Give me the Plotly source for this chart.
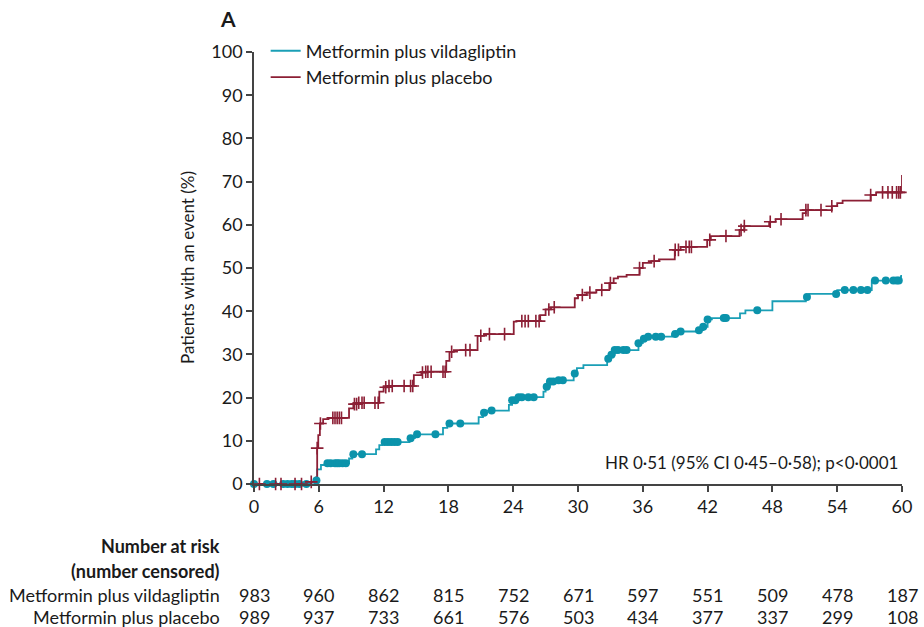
import plotly.graph_objects as go

# ---------------- data ----------------
# Kaplan-Meier step curves (time in months, cumulative % with event)
vilda_t = [0, 5.3, 5.7, 5.85, 6.2, 6.6, 8.8, 9.1, 11.3, 11.6, 11.9, 14.4, 14.9, 17.5, 17.9,
           20.8, 21.2, 21.5, 23.6, 23.9, 24.3, 26.8, 27.0, 27.4, 27.8, 29.6, 29.9, 30.5,
           32.7, 33.0, 33.4, 35.6, 36.0, 36.3, 38.7, 39.1, 41.1, 41.6, 42.0, 42.4, 45.0,
           45.5, 48.0, 51.1, 51.4, 54.0, 57.2, 59.9, 60]
vilda_v = [0, 0.3, 0.8, 3.4, 4.4, 4.8, 5.9, 6.9, 8.0, 9.0, 9.7, 10.6, 11.5, 13.0, 14.0,
           15.5, 16.5, 17.0, 18.3, 19.4, 20.1, 21.4, 22.5, 23.7, 24.0, 25.6, 26.8, 27.5,
           29.0, 29.9, 31.0, 32.6, 33.6, 34.1, 34.7, 35.3, 35.6, 36.4, 38.1, 38.4, 39.5,
           40.2, 42.3, 43.3, 44.0, 44.9, 47.1, 48.1, 48.4]

plac_t = [0, 5.3, 5.75, 5.85, 5.95, 6.1, 6.4, 6.9, 8.8, 9.2, 9.6, 11.6, 12.0, 12.4, 14.8,
          15.5, 15.9, 17.8, 18.1, 18.5, 20.7, 21.3, 24.05, 24.3, 26.5, 27.0, 27.5, 29.7,
          30.0, 30.8, 31.7, 32.9, 33.3, 33.7, 34.5, 35.7, 36.0, 36.8, 37.5, 38.96, 39.5,
          41.96, 42.3, 44.95, 45.4, 47.7, 48.3, 50.8, 51.1, 53.5, 54.0, 54.5, 57.1, 57.6,
          60]
plac_v = [0, 0.5, 1.5, 8.3, 11.3, 14.0, 15.0, 15.3, 17.5, 18.5, 18.8, 21.4, 22.4, 22.7, 25.2,
          25.8, 26.0, 28.5, 30.6, 31.0, 34.3, 34.7, 37.6, 37.7, 39.1, 40.4, 40.9, 43.0,
          43.75, 44.3, 44.9, 46.5, 47.6, 48.0, 48.4, 50.0, 51.2, 51.6, 52.0, 54.2, 54.9,
          56.5, 57.4, 58.8, 59.7, 60.7, 61.3, 62.7, 63.4, 64.3, 65.0, 65.6, 66.9, 67.5,
          71.5]

# censoring times (months)
vilda_cens = [0, 1.2, 1.8, 2.7, 3.1, 3.5, 3.8, 4.2, 4.85, 5.78, 6.8, 7.1, 7.5, 7.7, 7.9, 8.2,
              8.5, 9.2, 10.0, 12.1, 12.4, 12.7, 13.0, 13.3, 14.5, 15.1, 16.8, 18.1, 19.1,
              21.3, 22.0, 23.9, 24.2, 24.5, 24.8, 25.4, 25.9, 27.1, 27.4, 27.7, 28.2, 28.6,
              29.7, 32.8, 33.1, 33.4, 33.7, 34.2, 34.5, 35.6, 36.1, 36.5, 37.2, 37.7, 39.0,
              39.5, 41.2, 41.6, 42.0, 43.5, 43.7, 46.6, 51.2, 53.9, 54.7, 55.5, 56.2, 56.8,
              57.5, 58.5, 59.2, 59.5, 59.7]
plac_cens = [0.5, 2.0, 2.5, 3.8, 4.4, 5.3, 5.85, 6.15, 7.3, 7.5, 7.7, 7.9, 8.1, 9.3, 9.5,
             9.7, 10.0, 10.2, 11.2, 11.5, 12.2, 12.5, 12.8, 13.9, 14.5, 14.7, 15.6, 15.9,
             16.1, 16.4, 17.5, 17.7, 18.3, 19.6, 20.0, 21.0, 21.8, 23.2, 24.8, 25.1, 25.4,
             26.1, 26.4, 27.3, 27.8, 30.4, 31.1, 32.2, 33.0, 35.7, 37.05, 39.0, 39.3, 40.0,
             40.3, 40.5, 42.2, 43.7, 45.1, 45.4, 47.8, 48.8, 51.1, 51.3, 52.5, 53.5, 57.1,
             58.2, 58.7, 59.1, 59.5, 59.7, 59.85]

x_ticks = [0, 6, 12, 18, 24, 30, 36, 42, 48, 54, 60]
risk_vilda = ["983", "960", "862", "815", "752", "671", "597", "551", "509", "478", "187"]
risk_plac = ["989", "937", "733", "661", "576", "503", "434", "377", "337", "299", "108"]

name_vilda = "Metformin plus vildagliptin"
name_plac = "Metformin plus placebo"

# ---------------- styles ----------------
TEAL_LINE = "#1a9fb6"
TEAL_MARK = "#0b93ab"
RED = "#8c1f35"
FONT = "Lato"
TXT = "#1a1a1a"
AX = "#444444"
FS = 18


def km_at(ts, vs, t):
    val = vs[0]
    for ti, vi in zip(ts, vs):
        if ti <= t:
            val = vi
        else:
            break
    return val


fig = go.Figure()

fig.add_trace(go.Scatter(x=vilda_t, y=vilda_v, mode="lines", line_shape="hv",
                         line=dict(color=TEAL_LINE, width=1.8), name=name_vilda,
                         cliponaxis=False))
fig.add_trace(go.Scatter(x=plac_t, y=plac_v, mode="lines", line_shape="hv",
                         line=dict(color=RED, width=1.8), name=name_plac,
                         cliponaxis=False))

fig.add_trace(go.Scatter(x=vilda_cens, y=[km_at(vilda_t, vilda_v, c) for c in vilda_cens],
                         mode="markers", showlegend=False, cliponaxis=False,
                         marker=dict(symbol="circle", size=8, color=TEAL_MARK,
                                     line=dict(width=0))))
fig.add_trace(go.Scatter(x=plac_cens, y=[km_at(plac_t, plac_v, c) for c in plac_cens],
                         mode="markers", showlegend=False, cliponaxis=False,
                         marker=dict(symbol="cross-thin", size=9,
                                     line=dict(width=1.6, color=RED))))

ann = []
# risk table
row_y = [546, 571, 595, 617]
plot_bottom = 484
for xt, a, b in zip(x_ticks, risk_vilda, risk_plac):
    ann.append(dict(x=xt, y=0, xref="x", yref="paper", text=a, showarrow=False,
                    yshift=-(row_y[2] - plot_bottom), xanchor="center", yanchor="middle",
                    font=dict(size=FS, color=TXT, family=FONT)))
    ann.append(dict(x=xt, y=0, xref="x", yref="paper", text=b, showarrow=False,
                    yshift=-(row_y[3] - plot_bottom), xanchor="center", yanchor="middle",
                    font=dict(size=FS, color=TXT, family=FONT)))
labels = [("<b>Number at risk</b>", row_y[0]), ("<b>(number censored)</b>", row_y[1]),
          (name_vilda, row_y[2]), (name_plac, row_y[3])]
for t, yy in labels:
    ann.append(dict(x=0, y=0, xref="paper", yref="paper", text=t, showarrow=False,
                    xshift=-32, yshift=-(yy - plot_bottom), xanchor="right",
                    yanchor="middle", font=dict(size=FS, color=TXT, family=FONT)))

ann.append(dict(x=0, y=1, xref="paper", yref="paper", text="<b>A</b>", showarrow=False,
                xshift=-26, yshift=34, xanchor="center", yanchor="middle",
                font=dict(size=21, color=TXT, family=FONT)))
ann.append(dict(x=0, y=0.5, xref="paper", yref="paper", text="Patients with an event (%)",
                showarrow=False, xshift=-67, textangle=-90, xanchor="center",
                yanchor="middle", font=dict(size=17, color=TXT, family=FONT)))
ann.append(dict(x=1, y=5, xref="paper", yref="y",
                text="HR 0·51 (95% CI 0·45–0·58); p<0·0001", showarrow=False,
                xanchor="right", yanchor="middle", xshift=-2,
                font=dict(size=17, color=TXT, family=FONT)))

fig.update_layout(
    width=924, height=627,
    margin=dict(l=254, r=19, t=52, b=143),
    paper_bgcolor="white", plot_bgcolor="white",
    font=dict(family=FONT, size=FS, color=TXT),
    showlegend=True,
    legend=dict(x=0.018, y=1.045, xanchor="left", yanchor="top",
                bgcolor="rgba(0,0,0,0)", itemwidth=30, tracegroupgap=0,
                font=dict(size=FS, color=TXT, family=FONT)),
    annotations=ann,
    xaxis=dict(range=[0, 60], tickvals=x_ticks, showgrid=False, zeroline=False,
               showline=True, linecolor=AX, linewidth=1.5, ticks="outside",
               ticklen=6, tickwidth=1.5, tickcolor=AX,
               tickfont=dict(size=FS, color=TXT, family=FONT)),
    yaxis=dict(range=[0, 100], tickvals=list(range(0, 101, 10)), showgrid=False,
               zeroline=False, showline=True, linecolor=AX, linewidth=1.5,
               ticks="outside", ticklen=6, tickwidth=1.5, tickcolor=AX,
               tickfont=dict(size=FS, color=TXT, family=FONT)),
)

fig.write_html("out.html", config={"displayModeBar": False},
               post_script="document.body.style.margin='0px';document.body.style.overflow='hidden';")
